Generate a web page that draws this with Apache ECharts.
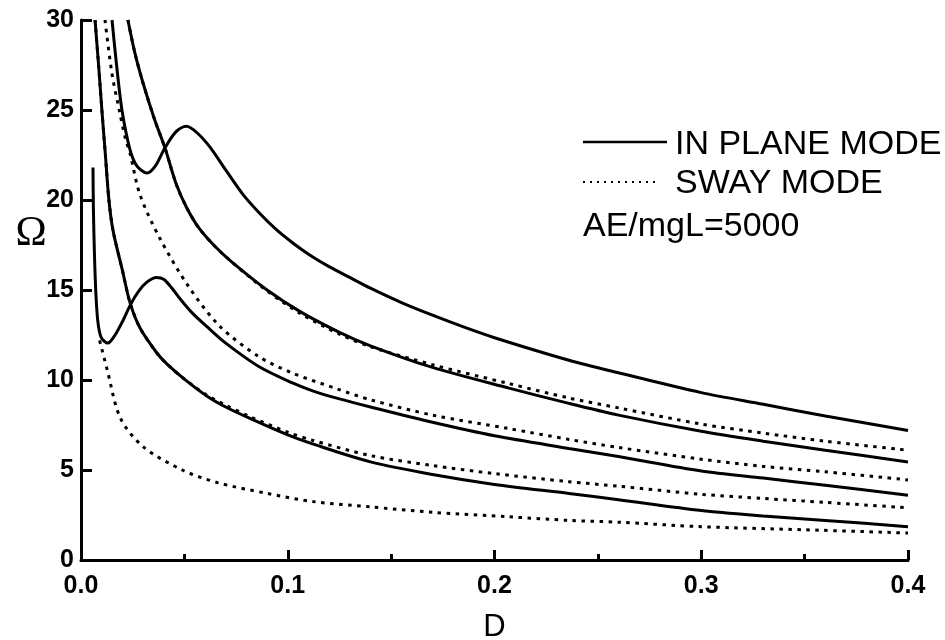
<!DOCTYPE html>
<html>
<head>
<meta charset="utf-8">
<script src="https://cdn.jsdelivr.net/npm/echarts@6/dist/echarts.min.js"></script>
<style>
html, body { margin: 0; background: #fff; }
#chart { width: 945px; height: 640px; }
</style>
</head>
<body>
<div id="chart"></div>
<script>
// [D, Omega] pairs
var inPlane1 = [[0.0068,30],[0.0085,27.5],[0.0101,25],[0.0118,22.5],[0.0135,20],[0.0155,18.3],[0.02,16.1],[0.0237,14.3],[0.0285,12.9],[0.0367,11.5],[0.0415,10.9],[0.05,10.05],[0.061,9.1],[0.07,8.5],[0.082,7.85],[0.1,6.95],[0.112,6.45],[0.14,5.45],[0.17,4.75],[0.2,4.2],[0.236,3.7],[0.26,3.35],[0.3,2.75],[0.33,2.45],[0.36,2.2],[0.4,1.85]];
var inPlane2 = [[0.0058,21.8],[0.006,19.5],[0.0065,17],[0.0072,14.8],[0.0082,13.2],[0.0098,12.35],[0.013,12.05],[0.0165,12.5],[0.0205,13.35],[0.024,14.2],[0.028,14.95],[0.032,15.45],[0.0365,15.7],[0.04,15.6],[0.044,15.1],[0.048,14.5],[0.054,13.7],[0.062,12.85],[0.07,12.05],[0.086,10.75],[0.102,9.85],[0.112,9.4],[0.125,8.95],[0.14,8.5],[0.17,7.65],[0.2,6.9],[0.236,6.2],[0.26,5.75],[0.3,4.95],[0.33,4.55],[0.36,4.15],[0.4,3.6]];
var inPlane3 = [[0.0227,30],[0.026,28.2],[0.03,26.5],[0.0355,24.5],[0.0406,22.9],[0.046,20.9],[0.051,19.6],[0.057,18.45],[0.065,17.4],[0.073,16.55],[0.09,15.0],[0.106,13.8],[0.125,12.65],[0.14,11.9],[0.17,10.7],[0.207,9.55],[0.236,8.7],[0.26,8.05],[0.3,7.15],[0.33,6.6],[0.36,6.1],[0.4,5.45]];
var inPlane4 = [[0.015,30],[0.0172,27.5],[0.0198,25],[0.0237,22.8],[0.027,21.9],[0.0319,21.5],[0.036,21.9],[0.0406,22.9],[0.046,23.8],[0.051,24.1],[0.056,23.75],[0.0623,22.95],[0.0704,21.6],[0.0784,20.3],[0.0865,19.25],[0.0945,18.35],[0.1026,17.6],[0.1106,16.95],[0.12,16.3],[0.13,15.7],[0.14,15.1],[0.155,14.3],[0.17,13.6],[0.185,12.95],[0.2,12.35],[0.236,11.1],[0.26,10.4],[0.3,9.3],[0.33,8.65],[0.36,8.0],[0.4,7.2]];

var sway1 = [[0.009,12.2],[0.0126,10.6],[0.019,7.9],[0.03,6.3],[0.049,5.0],[0.066,4.3],[0.09,3.7],[0.112,3.25],[0.14,2.95],[0.17,2.65],[0.207,2.4],[0.236,2.2],[0.26,2.1],[0.3,1.85],[0.35,1.68],[0.4,1.5]];
var sway2 = [[0.0068,30],[0.0085,27.5],[0.0101,25],[0.0118,22.5],[0.0135,20],[0.0155,18.3],[0.02,16.1],[0.0237,14.3],[0.0285,12.9],[0.0367,11.5],[0.0415,10.9],[0.05,10.05],[0.061,9.15],[0.07,8.6],[0.082,7.95],[0.1,7.1],[0.112,6.65],[0.14,5.8],[0.17,5.25],[0.2,4.8],[0.236,4.35],[0.26,4.1],[0.3,3.65],[0.33,3.42],[0.36,3.2],[0.4,2.9]];
var sway3 = [[0.0116,30],[0.015,27],[0.0185,25],[0.0215,23.4],[0.0237,22.6],[0.0285,20.3],[0.038,17.9],[0.052,15.2],[0.067,13.0],[0.086,11.3],[0.102,10.4],[0.124,9.5],[0.14,8.9],[0.17,8.05],[0.207,7.3],[0.236,6.7],[0.26,6.25],[0.3,5.6],[0.33,5.2],[0.36,4.9],[0.4,4.45]];
var sway4 = [[0.0227,30],[0.026,28.2],[0.03,26.5],[0.0355,24.5],[0.0406,22.9],[0.046,20.9],[0.051,19.6],[0.057,18.45],[0.065,17.4],[0.073,16.55],[0.09,14.95],[0.106,13.7],[0.125,12.55],[0.14,11.85],[0.17,10.85],[0.207,9.8],[0.236,9.0],[0.26,8.45],[0.3,7.55],[0.33,7.05],[0.36,6.6],[0.4,6.1]];

var chart = echarts.init(document.getElementById('chart'));

function solid(data) {
	return {
		type: 'line', name: 'IN PLANE MODE', data: data,
		showSymbol: false, smooth: 0.3, z: 3,
		lineStyle: { color: '#000', width: 3 }
	};
}
function dotted(data) {
	return {
		type: 'line', name: 'SWAY MODE', data: data,
		showSymbol: false, smooth: 0.3, z: 2,
		lineStyle: { color: '#000', width: 3, type: [3.5, 5.5] }
	};
}

var axisColor = '#000';
var option = {
	animation: false,
	backgroundColor: '#fff',
	grid: { left: 81, right: 37, top: 20, bottom: 80, containLabel: false, outerBoundsMode: 'none' },
	xAxis: {
		type: 'value', min: 0, max: 0.4, interval: 0.1,
		axisLine: { show: true, lineStyle: { color: axisColor, width: 3 } },
		axisTick: { show: true, inside: true, length: 10, lineStyle: { color: axisColor, width: 3 } },
		minorTick: { show: true, splitNumber: 2, length: 6, lineStyle: { color: axisColor, width: 3 } },
		splitLine: { show: false },
		axisLabel: {
			color: '#000', fontSize: 25, fontWeight: 'bold', fontFamily: 'Liberation Sans', margin: 14,
			formatter: function (v) { return v.toFixed(1); }
		},
		name: 'D', nameLocation: 'middle', nameGap: 52,
		nameTextStyle: { color: '#000', fontSize: 31, fontFamily: 'Liberation Sans' }
	},
	yAxis: {
		type: 'value', min: 0, max: 30, interval: 5,
		axisLine: { show: true, lineStyle: { color: axisColor, width: 3 } },
		axisTick: { show: true, inside: true, length: 11, lineStyle: { color: axisColor, width: 3 } },
		splitLine: { show: false },
		axisLabel: { color: '#000', fontSize: 25, fontWeight: 'bold', fontFamily: 'Liberation Sans', margin: 7 }
	},
	graphic: [
		{ type: 'text', x: 31, y: 234, style: { text: 'Ω', fontSize: 42, fontFamily: 'Liberation Serif', fill: '#000', align: 'center', verticalAlign: 'middle' } },
		{ type: 'line', shape: { x1: 583, y1: 142, x2: 667, y2: 142 }, style: { stroke: '#000', lineWidth: 2.5 } },
		{ type: 'text', x: 675, y: 145, style: { text: 'IN PLANE MODE', fontSize: 34, fontFamily: 'Liberation Sans', fill: '#000', align: 'left', verticalAlign: 'middle' } },
		{ type: 'line', shape: { x1: 583, y1: 182, x2: 658, y2: 182 }, style: { stroke: '#000', lineWidth: 2, lineDash: [2, 5] } },
		{ type: 'text', x: 675, y: 184, style: { text: 'SWAY MODE', fontSize: 34, fontFamily: 'Liberation Sans', fill: '#000', align: 'left', verticalAlign: 'middle' } },
		{ type: 'text', x: 583, y: 227, style: { text: 'AE/mgL=5000', fontSize: 34, fontFamily: 'Liberation Sans', fill: '#000', align: 'left', verticalAlign: 'middle' } }
	],
	series: [
		dotted(sway1), dotted(sway2), dotted(sway3), dotted(sway4),
		solid(inPlane1), solid(inPlane2), solid(inPlane3), solid(inPlane4)
	]
};

chart.setOption(option);
</script>
</body>
</html>
